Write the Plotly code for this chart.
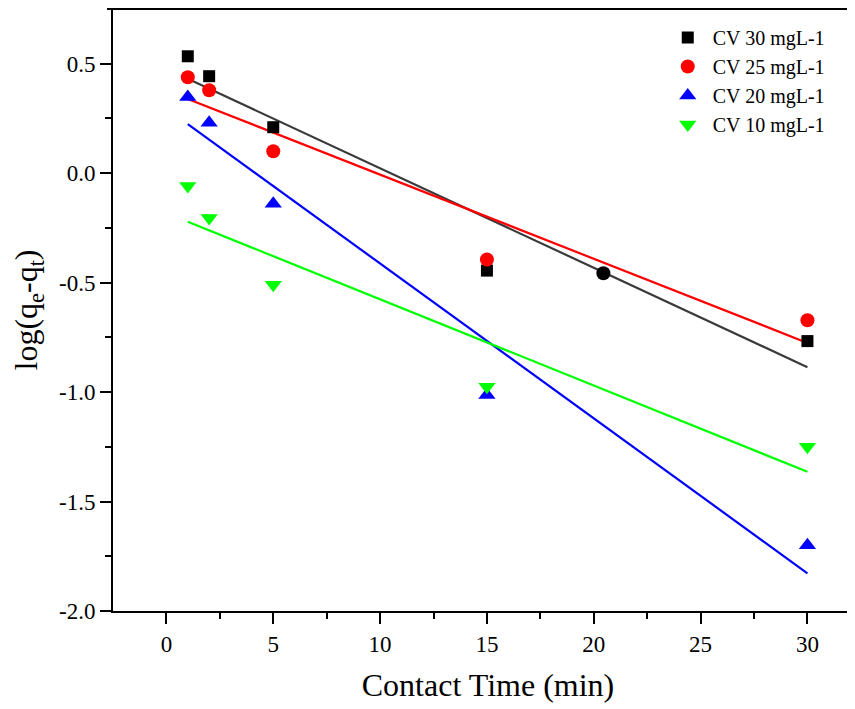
import numpy as np
import plotly.graph_objects as go

time_min = [1, 2, 5, 15, 30]
cv30 = [0.534, 0.443, 0.21, -0.445, -0.767]
cv25 = [0.438, 0.379, 0.10, -0.394, -0.672]
cv20 = [0.348, 0.23, -0.14, -1.013, -1.70]
cv10 = [-0.058, -0.205, -0.51, -0.976, -1.25]
extra_x = [20.45]
extra_y = [-0.457]

names = ["CV 30 mgL-1", "CV 25 mgL-1", "CV 20 mgL-1", "CV 10 mgL-1"]
series = [cv30, cv25, cv20, cv10]
marker_colors = ["#000000", "#ff0000", "#0000ff", "#00ff00"]
line_colors = ["#3a3a3a", "#ff0000", "#0000ff", "#00ff00"]
symbols = ["square", "circle", "triangle-up", "triangle-down"]
sizes = [12, 14, 15, 15]

FONT = "Liberation Serif"

fig = go.Figure()

# fitted lines (linear regression of each series)
for ys, lc in zip(series, line_colors):
    k, b = np.polyfit(time_min, ys, 1)
    xs = [time_min[0], time_min[-1]]
    fig.add_trace(go.Scatter(x=xs, y=[k * x + b for x in xs], mode="lines",
                             line=dict(color=lc, width=2.2), showlegend=False,
                             hoverinfo="skip"))

for name, ys, mc, sym, sz in zip(names, series, marker_colors, symbols, sizes):
    fig.add_trace(go.Scatter(x=time_min, y=ys, mode="markers", name=name,
                             marker=dict(color=mc, symbol=sym, size=sz, line=dict(width=0))))

fig.add_trace(go.Scatter(x=extra_x, y=extra_y, mode="markers", showlegend=False,
                         marker=dict(color="#000000", symbol="circle", size=14)))

fig.update_layout(
    width=855, height=709,
    margin=dict(l=105, r=0, t=1, b=106),
    paper_bgcolor="white", plot_bgcolor="white",
    font=dict(family=FONT, color="black", size=23),
    legend=dict(x=0.733, y=0.985, xanchor="left", yanchor="top",
                bgcolor="rgba(0,0,0,0)", font=dict(size=20, family=FONT),
                itemsizing="trace", itemwidth=40),
    xaxis=dict(range=[-2.5, 32.6], tickmode="array",
               tickvals=[0, 5, 10, 15, 20, 25, 30],
               ticktext=["0", "5", "10", "15", "20", "25", "30"],
               ticks="outside", ticklen=11, tickwidth=2, tickcolor="black",
               minor=dict(tickvals=[2.5, 7.5, 12.5, 17.5, 22.5, 27.5, 32.5], ticks="outside",
                          ticklen=6, tickwidth=2, tickcolor="black"),
               showline=True, linecolor="black", linewidth=2,
               showgrid=False, zeroline=False, automargin=False,
               tickfont=dict(size=23, family=FONT),
               title=dict(text="Contact Time (min)", font=dict(size=32, family=FONT), standoff=18)),
    yaxis=dict(range=[-2.0, 0.75], tickmode="array",
               tickvals=[-2.0, -1.5, -1.0, -0.5, 0.0, 0.5],
               ticktext=["-2.0", "-1.5", "-1.0", "-0.5", "0.0", "0.5"],
               ticks="outside", ticklen=11, tickwidth=2, tickcolor="black",
               minor=dict(tickvals=[-1.75, -1.25, -0.75, -0.25, 0.25], ticks="outside",
                          ticklen=6, tickwidth=2, tickcolor="black"),
               showline=True, linecolor="black", linewidth=2,
               showgrid=False, zeroline=False, automargin=False,
               tickfont=dict(size=23, family=FONT),
               title=dict(text="log(q<sub>e</sub>-q<sub>t</sub>)", font=dict(size=32, family=FONT), standoff=14)),
)

fig.add_shape(type="line", xref="paper", yref="paper", x0=-0.008, x1=1, y0=1, y1=1,
              line=dict(color="black", width=2))

fig.write_html("out.html")
